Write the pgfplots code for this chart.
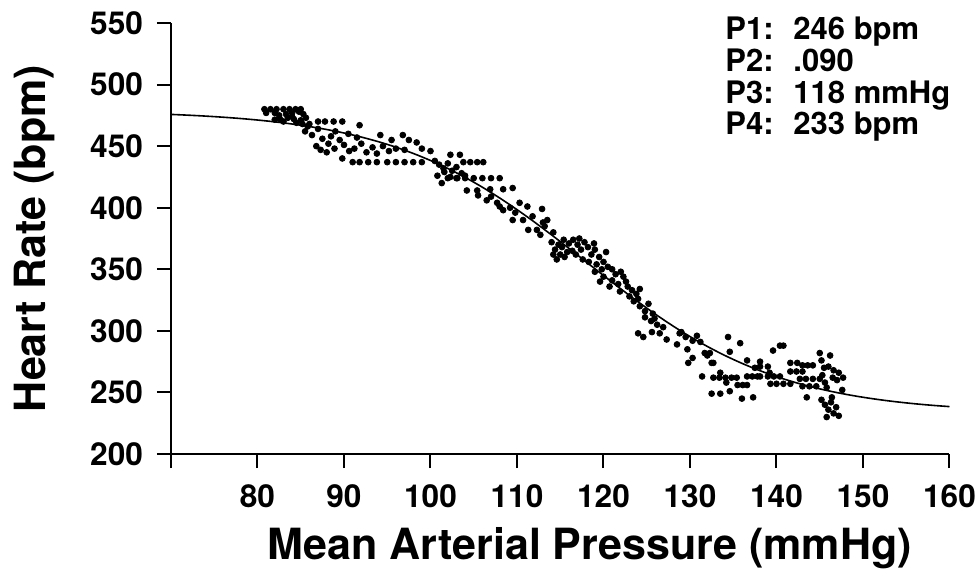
\documentclass[border=0pt]{standalone}
\usepackage{pgfplots}
\pgfplotsset{compat=1.18}
\usepackage{fontspec}
\setmainfont{TeX Gyre Heros}

\begin{document}
\begin{tikzpicture}
\path[use as bounding box] (-85.5pt,-63pt) rectangle (402pt,227pt);
\begin{axis}[
  at={(0,0)}, anchor=south west,
  scale only axis, width=389.25pt, height=215.5pt,
  xmin=70, xmax=160, ymin=200, ymax=550,
  clip=false,
  axis x line*=bottom, axis y line*=left,
  axis line style={-, line width=1pt},
  tick align=outside, major tick length=7pt,
  tick style={line width=1pt, black},
  xtick={80,90,...,160}, ytick={200,250,...,550},
  extra x ticks={70}, extra x tick labels={},
  /pgf/number format/assume math mode=true,
  /pgf/number format/1000 sep={},
  ticklabel style={font=\bfseries\fontsize{15.8}{18}\selectfont},
  xticklabel style={yshift=-5pt},
  yticklabel style={xshift=-3.5pt},
  xlabel={Mean Arterial Pressure (mmHg)},
  ylabel={Heart Rate (bpm)},
  label style={font=\bfseries\fontsize{21.5}{24}\selectfont},
  xlabel style={at={(axis description cs:0.538,-0.218)}, anchor=center},
  ylabel style={at={(axis description cs:-0.175,0.5)}, anchor=center, rotate=0},
]
% fitted logistic curve: values typed from P1..P4
\addplot[black, line width=0.8pt, smooth] coordinates {
(70,475.77) (72,475.14) (74,474.40) (76,473.51) (78,472.46) (80,471.21)
(82,469.73) (84,467.98) (86,465.93) (88,463.51) (90,460.68) (92,457.38)
(94,453.56) (96,449.16) (98,444.10) (100,438.36) (102,431.88) (104,424.64)
(106,416.64) (108,407.89) (110,398.46) (112,388.43) (114,377.90) (116,367.04)
(118,356.00) (120,344.96) (122,334.10) (124,323.57) (126,313.54) (128,304.11)
(130,295.36) (132,287.36) (134,280.12) (136,273.64) (138,267.90) (140,262.84)
(142,258.44) (144,254.61) (146,251.32) (148,248.49) (150,246.08) (152,244.02)
(154,242.27) (156,240.79) (158,239.54) (160,238.49)
};
% measured points
\addplot[only marks, mark=*, mark size=1.45pt, black] coordinates {
(80.8,480) (81.5,480) (82.2,480) (83,480) (83.7,480) (84.4,480) (85,480)
(81,477) (82,477) (82.5,475) (83.3,476) (84,477) (84.8,478) (85.3,476)
(82.6,472) (83.5,473) (84.2,472) (85,471) (85.6,473) (84.5,469) (85.2,468)
(85.8,466) (84,474) (83,470) (82,471.5)
(87,470) (87.8,470) (88.8,470) (89.8,470) (91.8,467)
(85.5,462) (86.3,459) (87,464) (87.5,456) (88.2,452) (86.8,450) (88.9,448)
(89.5,455) (90,451) (90.6,446) (91.2,448) (87.3,447) (88,445) (89.8,440)
(92,452) (92.6,445) (93.3,449) (91.5,457) (90.5,460) (89,462) (88.5,458) (86,468)
(91,437) (91.8,437) (92.8,437) (93.8,437) (95,437) (96,437) (97,437) (98,437) (99,437)
(94.2,459) (96.8,459) (95.5,455) (97.5,455) (98.4,453) (94.5,450) (95.2,446)
(96,448) (97,447) (93.8,444) (99,448) (100,446)
(102.3,443) (103.4,443) (103.8,437) (104.6,437) (105.4,437) (106.1,437)
(100.5,438) (101,435) (101.5,432) (102,436) (102.5,430) (103,433) (103.6,428)
(100.8,426) (101.6,429) (102.3,425) (103.1,424) (104,426)
(102,424) (103,424) (104,424) (105,424) (106,424) (107,424) (108,424)
(101.3,420) (104.2,414) (105.4,414) (106.9,415) (108.4,415) (109.5,416)
(106.5,406) (107.7,404) (108.4,398) (109.2,400) (110.3,404) (111.2,401)
(112.9,399) (105.5,410) (107,409) (108,401) (109.8,396)
(109.5,390) (110.7,390) (111.3,382) (112.3,382) (113,388) (113.5,390)
(112.7,378) (114.2,380) (111.8,393) (113.2,385)
(114,372) (114.4,366) (114.8,370) (115,362) (115.2,368) (115.5,360) (114.6,358)
(115.8,364) (114.2,362) (115.4,374) (116,371)
(116.5,374) (117,370) (117.4,366) (117.8,372) (118.2,368) (118.6,362) (119,366)
(119.5,360) (120,356) (120.3,364) (116.8,362) (117.6,358) (118.3,356) (119.2,354)
(119.8,350) (120.5,352) (117.2,375) (118.9,371) (121,350) (121.4,346) (116.4,365)
(119,348) (120,344) (121,341) (121.7,338) (122.3,344) (122.8,336) (123.3,333)
(123.8,330) (124.2,334) (120.7,336) (121.9,332) (122.6,340) (123,328) (119.6,340)
(124,326) (122,348)
(123.5,324) (124.2,320) (124.8,316) (125.2,322) (125.7,314) (124.8,311) (125.5,308)
(126.2,305) (126.9,303) (125.9,310) (124,298) (124.6,295) (125.6,299) (126.5,298)
(127.3,293) (128.5,289) (129.7,285) (128.8,298) (129.5,295) (130.3,292) (131.2,291)
(130.3,278) (129.8,274) (131.7,282) (132.3,282) (132.5,274) (132,280) (132.7,274)
(134.4,295) (135.8,290) (134.6,283) (129,299) (130.8,296)
(131.4,263) (132.7,262) (133.4,262) (134.1,262) (134.8,262) (135.4,262) (133.5,266) (134.2,258)
(132.5,249) (133.5,249) (134.6,251) (136,245) (137.3,246)
(135.5,256) (136.1,256) (136.6,256) (136.6,263) (137.2,263) (137.8,263) (138.1,263)
(138.1,275) (138.1,271) (139,271) (139.2,266) (139.6,284) (140.4,288) (140.8,288)
(139,263) (139.7,263) (140.4,263) (139.3,257) (140,257) (140.8,257) (141.6,257)
(141.6,274) (142.4,274) (141.6,267) (142.3,267) (143,267) (143,272) (143.6,272) (144.2,272)
(142.7,261) (143.4,261) (144.2,261) (145,261) (143,255) (143.8,255) (144.6,255) (143.5,246)
(145,282) (145.2,276) (145.5,270) (145.3,264) (145.6,258) (145.8,254) (146.2,280)
(146,271) (146.6,268) (147.2,266) (147.7,262) (146.5,262) (147,260)
(145.2,244) (145.6,240) (146,236) (146.3,242) (146.6,233) (146.9,238) (147.2,231)
(145.8,230) (146.4,246) (147.6,252) (136.6,276) (137.5,270)
};
\node[anchor=base west, inner sep=0pt,
      font=\bfseries\fontsize{15.5}{15}\selectfont]
  at (axis cs:134.05,536.3) {\begin{tabular}[t]{@{}l@{\hspace{9.9pt}}l@{}}
  P1: & 246 bpm\\ P2: & .090\\ P3: & 118 mmHg\\ P4: & 233 bpm\end{tabular}};
\end{axis}
\end{tikzpicture}
\end{document}
